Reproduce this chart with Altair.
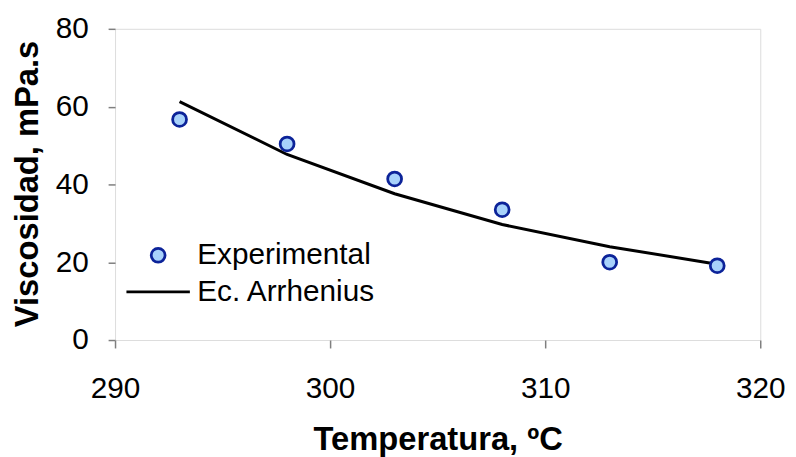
import altair as alt
import pandas as pd

# Data
temperatura = [293, 298, 303, 308, 313, 318]
visc_experimental = [56.7, 50.4, 41.4, 33.5, 20.0, 19.1]
visc_arrhenius = [61.3, 47.7, 37.6, 29.7, 24.0, 19.5]
series = ["Experimental", "Ec. Arrhenius"]

x_ticks = [290, 300, 310, 320]
y_ticks = [0, 20, 40, 60, 80]

FONT = "Liberation Sans"
FILL_BLUE = "#a8d2fb"
STROKE_BLUE = "#0c2399"

df_exp = pd.DataFrame({"T": temperatura, "mu": visc_experimental, "serie": series[0]})
df_fit = pd.DataFrame({"T": temperatura, "mu": visc_arrhenius, "serie": series[1]})

x_enc = alt.X(
    "T:Q",
    scale=alt.Scale(domain=[290, 320], nice=False),
    axis=alt.Axis(
        values=x_ticks, title="Temperatura, ºC", grid=False, domain=False,
        tickSize=8, tickColor="#7f7f7f", tickWidth=1.5,
        labelFlush=False, labelOverlap=False,
        labelPadding=26, labelFontSize=30, labelFont=FONT, labelColor="black",
        titleFontSize=33, titleFont=FONT, titleFontWeight="bold", titleColor="black",
        titleBaseline="alphabetic", titleY=110,
    ),
)
y_enc = alt.Y(
    "mu:Q",
    scale=alt.Scale(domain=[0, 80], nice=False),
    axis=alt.Axis(
        values=y_ticks, title="Viscosidad, mPa.s", grid=False, domain=False,
        tickSize=7, tickColor="#7f7f7f", tickWidth=1.5,
        labelFlush=False, labelOverlap=False,
        labelPadding=20, labelFontSize=30, labelFont=FONT, labelColor="black",
        titleFontSize=33, titleFont=FONT, titleFontWeight="bold", titleColor="black",
        titleAngle=270, titleBaseline="alphabetic", titleAlign="center",
        titleX=-78, titleY=156,
    ),
)

legend = alt.Legend(
    title=None, orient="none", legendX=10, legendY=210, padding=0,
    labelFontSize=30, labelFont=FONT, labelColor="black", labelOffset=6,
    labelLimit=400, symbolStrokeWidth=2.8, rowPadding=0, clipHeight=37,
)

points = alt.Chart(df_exp).mark_point(filled=False, strokeWidth=2.8, opacity=1).encode(
    x=x_enc,
    y=y_enc,
    shape=alt.Shape("serie:N", scale=alt.Scale(domain=series, range=["circle", "stroke"]), legend=legend),
    fill=alt.Fill("serie:N", scale=alt.Scale(domain=series, range=[FILL_BLUE, "transparent"]), legend=legend),
    stroke=alt.Stroke("serie:N", scale=alt.Scale(domain=series, range=[STROKE_BLUE, "black"]), legend=legend),
    size=alt.Size("serie:N", scale=alt.Scale(domain=series, range=[196, 4096]), legend=legend),
)

line = alt.Chart(df_fit).mark_line(color="black", strokeWidth=3).encode(
    x=alt.X("T:Q"),
    y=alt.Y("mu:Q"),
)

chart = alt.layer(line, points).properties(
    width=651,
    height=314,
    autosize=alt.AutoSizeParams(type="none"),
    padding={"left": 108, "top": 19, "right": 28, "bottom": 116},
).configure_view(stroke="black", strokeWidth=2.8).configure(background="white")

chart.save("out.html", embed_options={"renderer": "svg", "actions": False})
